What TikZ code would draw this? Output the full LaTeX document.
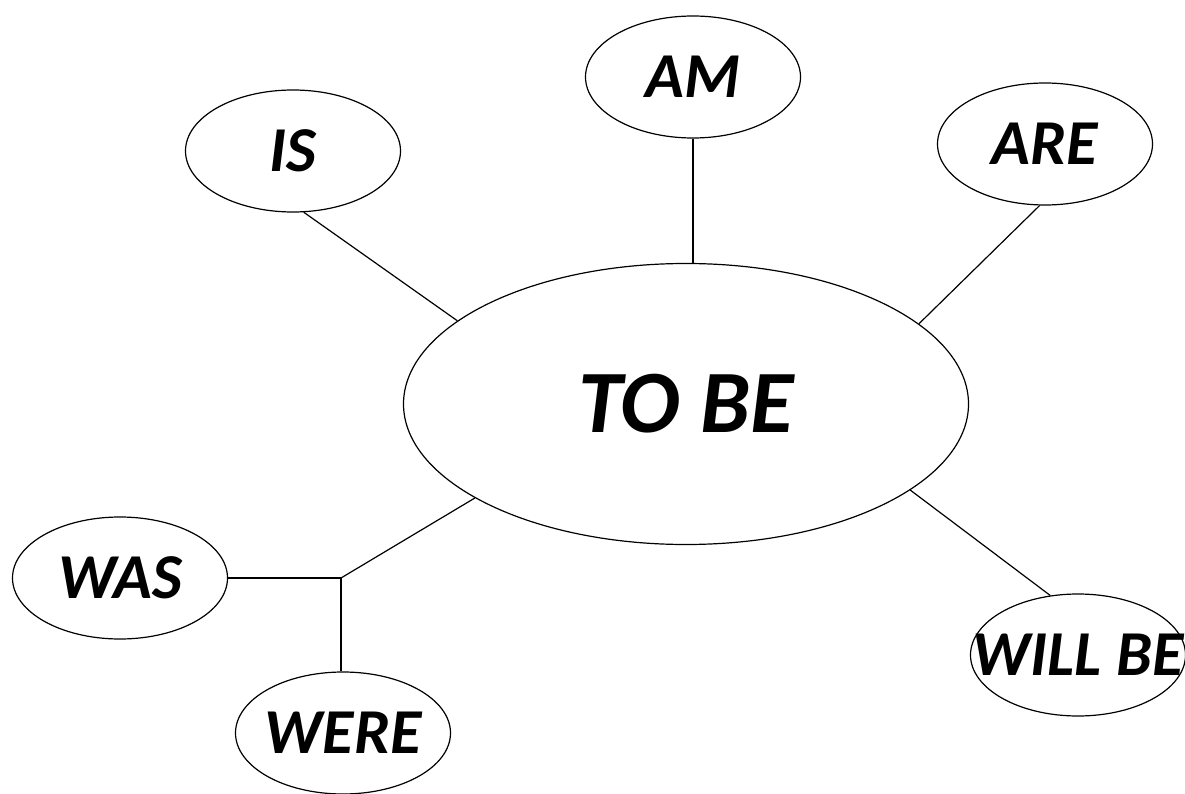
\documentclass[tikz,border=0pt]{standalone}
\usepackage{fontspec}
\setmainfont{Carlito}
\usetikzlibrary{shapes.geometric}
\begin{document}
\begin{tikzpicture}[x=1pt,y=-1pt,
  bubble/.style={draw,ellipse,line width=1.2pt,inner sep=0pt,minimum width=215pt,minimum height=122pt,
    font=\fontsize{64}{68}\selectfont\bfseries\itshape},
  big/.style={draw,ellipse,line width=1.2pt,inner sep=0pt,minimum width=565pt,minimum height=281pt,
    font=\fontsize{89}{94}\selectfont\bfseries\itshape},
  link/.style={line width=1.2pt}]
\useasboundingbox (0,0) rectangle (1185,794);
\node[big] (tobe) at (686,404) {TO BE};
\node[bubble] (am) at (693,77) {\makebox[0pt]{AM}};
\node[bubble] (is) at (293,151) {\makebox[0pt]{IS}};
\node[bubble] (are) at (1045,144) {\makebox[0pt]{ARE}};
\node[bubble] (was) at (120,578) {\makebox[0pt]{WAS}};
\node[bubble] (were) at (343,733) {\makebox[0pt]{WERE}};
\node[bubble] (willbe) at (1078,655) {\makebox[0pt]{WILL BE}};
\coordinate (j) at (341,578);
\draw[link] (am.south) -- (am.south |- tobe.north);
\draw[link] (is.280) -- (tobe.160.8);
\draw[link] (are.265.7) -- (tobe.19.2);
\draw[link] (willbe.115.8) -- (tobe.339);
\draw[link] (tobe.204) -- (j);
\draw[link] (was.east) -- (j);
\draw[link] (j) -- (j |- were.north);
\end{tikzpicture}
\end{document}
